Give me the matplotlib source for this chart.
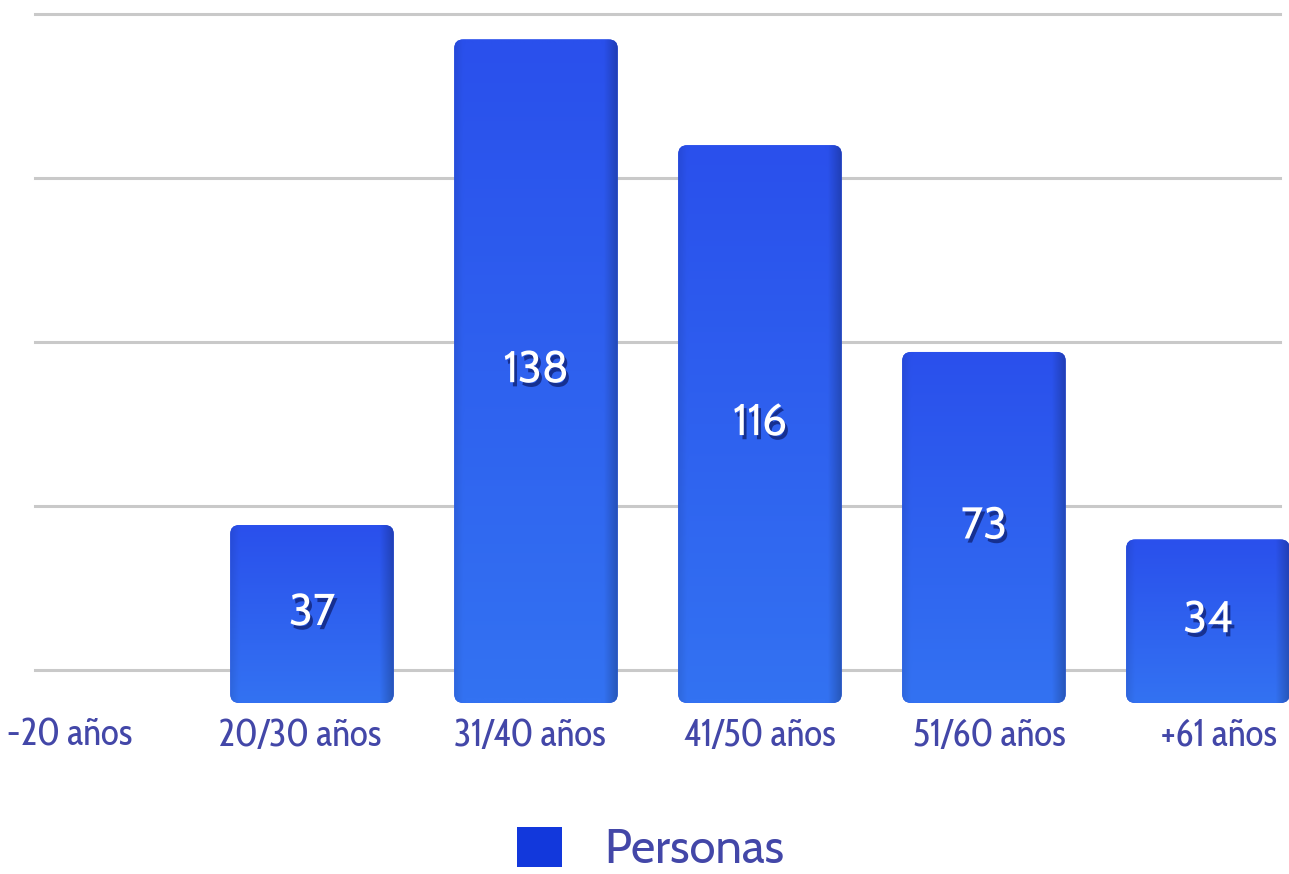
import numpy as np
import matplotlib
matplotlib.use("Agg")
import matplotlib.pyplot as plt
import matplotlib.patheffects as pe
import matplotlib.transforms as mtransforms
from matplotlib.patches import Patch, FancyBboxPatch
from matplotlib.colors import to_rgb

# -------------------------- datos --------------------------
categorias = ['-20 años', '20/30 años', '31/40 años', '41/50 años', '51/60 años', '+61 años']
personas = [0, 37, 138, 116, 73, 34]
serie = 'Personas'
rejilla = [0, 35, 70, 105, 140]

COLOR_TEXTO = '#4347A8'
GRIS_REJILLA = '#C9C9C9'
FUENTE = ['Cabin', 'Lato', 'DejaVu Sans']
FUENTE_ESTRECHA = ['Cabin Condensed', 'Fira Sans Condensed', 'Barlow Condensed', 'DejaVu Sans']

fig = plt.figure(figsize=(12.89, 8.74), dpi=100)
ax = fig.add_axes([0.0, 0.1957, 1.0, 0.8043])
ax2 = ax.twinx()

# rejilla en el "fondo" (eje gemelo con su propia escala)
ax2.set_ylim(-7.04, 143.0)
for t in rejilla:
    ax2.axhline(t, xmin=0.027, xmax=0.993, color=GRIS_REJILLA, lw=2.2, zorder=1)
ax2.set_yticks([])
for s in ax2.spines.values():
    s.set_visible(False)

ax.set_zorder(ax2.get_zorder() + 1)
ax.patch.set_visible(False)

XLIM = (-0.393, 5.362)
YLIM = (0, 146.2)
ax.set_xlim(*XLIM)
ax.set_ylim(*YLIM)

x = np.arange(len(categorias))
barras = ax.bar(x, personas, width=0.73, color='#2C5FEE', edgecolor='none', zorder=3)

# relacion de aspecto datos/pixeles para redondear esquinas
bbox_ax = ax.get_window_extent()
px_x = (XLIM[1] - XLIM[0]) / bbox_ax.width
px_y = (YLIM[1] - YLIM[0]) / bbox_ax.height
aspecto = px_y / px_x

# degradado sobre cada barra
arriba = np.array(to_rgb('#2A50EC'))
abajo = np.array(to_rgb('#3372F2'))
v = np.linspace(0, 1, 64)[:, None, None]
col = arriba * (1 - v) + abajo * v
h = np.linspace(0, 1, 64)[None, :, None]
sombra = 1 - 0.22 * np.clip((h - 0.92) / 0.08, 0, 1) - 0.08 * np.clip((0.05 - h) / 0.05, 0, 1)
grad = np.clip(col * sombra, 0, 1)
for b, val in zip(barras, personas):
    if val <= 0:
        continue
    bx, bw, bh = b.get_x(), b.get_width(), b.get_height()
    caja = FancyBboxPatch((bx, 0), bw, bh, boxstyle=f"round,pad=0,rounding_size={9 * px_x}",
                          mutation_aspect=aspecto, facecolor='#2A50EC', edgecolor='none',
                          transform=ax.transData, zorder=3)
    ax.add_patch(caja)
    b.set_visible(False)
    im = ax.imshow(grad, extent=(bx, bx + bw, 0, bh), origin='upper',
                   aspect='auto', zorder=4, interpolation='bilinear')
    im.set_clip_path(caja)
    ax.text(bx + bw / 2, bh / 2, str(val), ha='center', va='center',
            color='white', fontsize=32, family=FUENTE, zorder=6,
            path_effects=[pe.withSimplePatchShadow(offset=(2, -3), shadow_rgbFace='#000033', alpha=0.5)])

ax.set_xlim(*XLIM)
ax.set_ylim(*YLIM)
ax.set_xticks(x)
ax.set_xticklabels(categorias, color=COLOR_TEXTO, fontsize=27, family=FUENTE_ESTRECHA)
ax.tick_params(axis='x', length=0, pad=10)
# leve desplazamiento de perspectiva en las etiquetas
for i, lab in enumerate(ax.get_xticklabels()):
    lab.set_transform(lab.get_transform() +
                      mtransforms.ScaledTranslation((i - 3.1) * 6.0 / 100, 0, fig.dpi_scale_trans))
ax.set_yticks([])
for s in ax.spines.values():
    s.set_visible(False)

leg = fig.legend(handles=[Patch(facecolor='#1238DC', edgecolor='none', label=serie)],
                 loc='center', bbox_to_anchor=(0.505, 0.026), frameon=False,
                 prop={'family': FUENTE, 'size': 34},
                 handlelength=0.95, handleheight=0.92, handletextpad=0.9)
for t in leg.get_texts():
    t.set_color(COLOR_TEXTO)

fig.savefig('out.png', dpi=100)
